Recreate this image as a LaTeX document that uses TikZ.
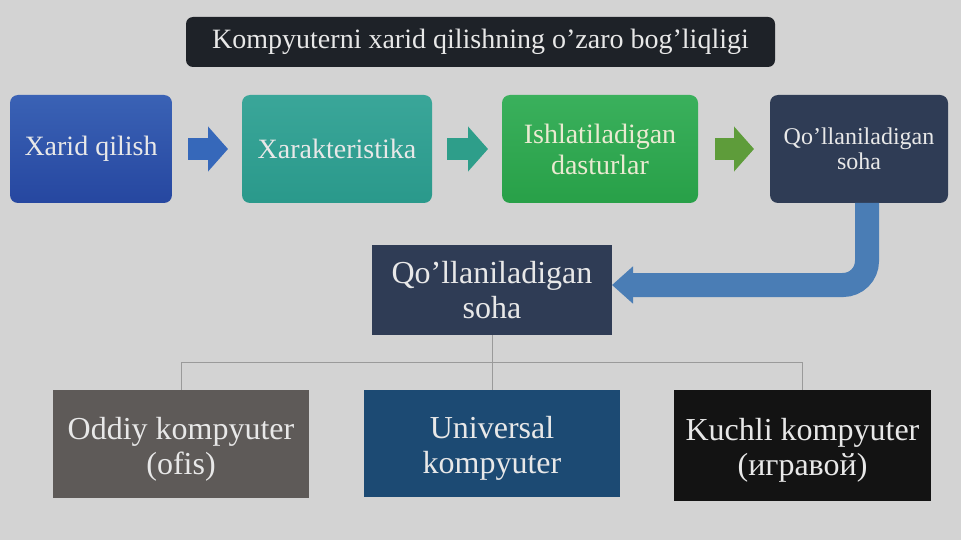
\documentclass[tikz,border=0pt]{standalone}
\usepackage{fontspec}
\setmainfont{Liberation Serif}
\usetikzlibrary{arrows.meta}
\definecolor{bg}{HTML}{D3D3D3}
\definecolor{titlec}{HTML}{1E2228}
\definecolor{b1top}{HTML}{3A62B5}
\definecolor{b1bot}{HTML}{2647A0}
\definecolor{b2top}{HTML}{3AA699}
\definecolor{b2bot}{HTML}{2A998B}
\definecolor{b3top}{HTML}{3AB05C}
\definecolor{b3bot}{HTML}{28A048}
\definecolor{navy}{HTML}{2F3C55}
\definecolor{gray6}{HTML}{5E5A58}
\definecolor{blue7}{HTML}{1C4A73}
\definecolor{black8}{HTML}{131313}
\definecolor{arr1}{HTML}{3668BA}
\definecolor{arr2}{HTML}{2E9E8A}
\definecolor{arr3}{HTML}{5E9C3A}
\definecolor{bigarr}{HTML}{4A7DB5}
\definecolor{txt}{HTML}{E8E8E8}
\definecolor{conn}{HTML}{9A9A9A}
\tikzset{
  box/.style={inner sep=0pt, outer sep=0pt, align=center, text=txt},
  topbox/.style={box, rounded corners=8pt, minimum height=108pt,
    font=\fontsize{28}{31}\selectfont},
  lowbox/.style={box, font=\fontsize{32}{35}\selectfont},
  lowtext/.style={box, font=\fontsize{32}{35}\selectfont},
  smallarrow/.style={line width=22pt,
    -{Triangle[length=20pt 0 0, width=44pt 0 0]}},
  connline/.style={draw=conn, line width=1pt},
}
\begin{document}
\begin{tikzpicture}[x=1pt,y=-1pt]
\fill[bg] (0,0) rectangle (961,540);
\useasboundingbox (0,0) rectangle (961,540);

% title
\node[box, fill=titlec, rounded corners=7pt, minimum width=589pt, minimum height=50pt,
  font=\fontsize{28}{31}\selectfont] (title) at (480.5,42)
  {Kompyuterni xarid qilishning o’zaro bog’liqligi};

% top row
\node[topbox, top color=b1top, bottom color=b1bot, minimum width=162pt] (b1) at (91,149) {Xarid qilish};
\node[topbox, top color=b2top, bottom color=b2bot, minimum width=190pt] (b2) at (337,149) {Xarakteristika};
\node[topbox, top color=b3top, bottom color=b3bot, minimum width=196pt, text=txt!90!yellow] (b3) at (600,149) {Ishlatiladigan\\dasturlar};
\node[topbox, fill=navy, minimum width=178pt, font=\fontsize{24}{25}\selectfont] (b4) at (859,149) {Qo’llaniladigan\\soha};

% small arrows
\draw[smallarrow, arr1] ([xshift=16pt]b1.east) -- ([xshift=-14pt]b2.west);
\draw[smallarrow, arr2] ([xshift=15pt]b2.east) -- ([xshift=-14pt]b3.west);
\draw[smallarrow, arr3] ([xshift=17pt]b3.east) -- ([xshift=-16pt]b4.west);

% middle box
\node[lowbox, fill=navy, minimum width=240pt, minimum height=90pt] (b5) at (492,290) {Qo’llaniladigan\\soha};

% big bent arrow
\draw[bigarr, line width=24pt, rounded corners=24pt,
  -{Triangle[length=21pt 0 0, width=36pt 0 0]}]
  ([xshift=8pt]b4.south) |- ([yshift=5pt]b5.east);

% bottom row
\node[box, fill=gray6, minimum width=256pt, minimum height=108pt] (b6) at (181,444) {};
\node[box, fill=blue7, minimum width=256pt, minimum height=107pt] (b7) at (492,443.5) {};
\node[box, fill=black8, minimum width=257pt, minimum height=111pt] (b8) at (802.5,445.5) {};
\node[lowtext] (t6) at ([yshift=-5pt]b6.center) {Oddiy kompyuter\\(ofis)};
\node[lowtext] (t7) at ([yshift=-5pt]b7.center) {Universal\\kompyuter};
\node[lowtext] (t8) at ([yshift=-5pt]b8.center) {Kuchli kompyuter\\(игравой)};

% connectors
\draw[connline] (b5.south) -- ++(0,27) coordinate (hub);
\draw[connline] (hub) -| (b6.north);
\draw[connline] (hub) -- (b7.north);
\draw[connline] (hub) -| (b8.north);
\end{tikzpicture}
\end{document}
